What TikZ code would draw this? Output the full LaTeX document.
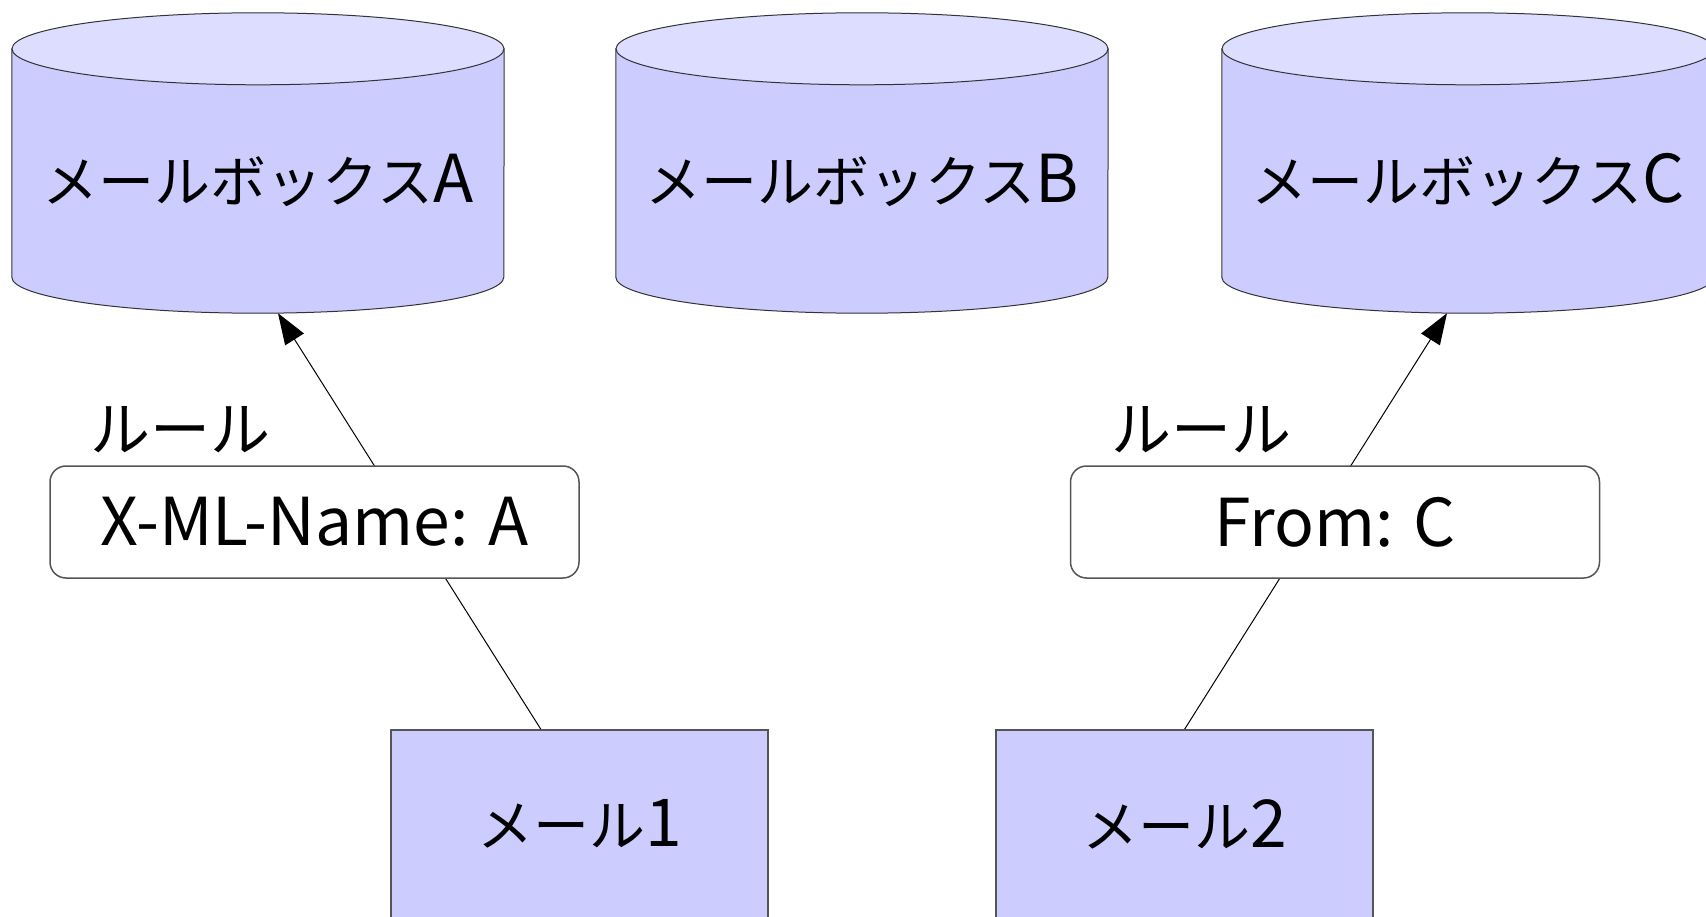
\documentclass[tikz,border=0pt]{standalone}
\usepackage{fontspec}
\setmainfont{Noto Sans CJK JP}
\usetikzlibrary{calc,arrows.meta,backgrounds}
\definecolor{bodyblue}{HTML}{CCCCFF}
\definecolor{topblue}{HTML}{DDDDFF}
\definecolor{edgegray}{HTML}{555555}
\newcommand{\kn}{\fontsize{56}{60}\selectfont}
\newcommand{\lt}{\fontsize{66}{70}\selectfont}
\tikzset{
  cylframe/.style={draw=none,minimum width=492pt,minimum height=300pt,inner sep=0pt},
  cyltext/.style={inner sep=0pt},
  cylbody/.style={fill=bodyblue,draw=black!80,line width=1pt},
  cyltop/.style={fill=topblue,draw=black!80,line width=1pt},
  rulebox/.style={draw=edgegray,line width=1.5pt,fill=white,rounded corners=16pt,minimum width=529pt,minimum height=112pt,inner sep=0pt,font=\lt},
  rulelabel/.style={font=\fontsize{60}{64}\selectfont,inner sep=0pt},
  mailbox/.style={draw=edgegray,line width=1.2pt,fill=bodyblue,minimum width=377pt,minimum height=188pt,inner sep=0pt},
  link/.style={draw=black,line width=1pt},
  arrowlink/.style={link,-{Triangle[length=31pt,width=22pt]}}
}
\newcommand{\cylshape}[1]{%
  \path[cylbody] ($(#1.north west)+(0,-36)$) -- ($(#1.south west)+(0,36)$)
    arc[start angle=180,end angle=360,x radius=246,y radius=36]
    -- ($(#1.north east)+(0,-36)$) -- cycle;
  \path[cyltop] ($(#1.north)+(0,-36)$) ellipse[x radius=246,y radius=36];
}
\begin{document}
\begin{tikzpicture}[x=1pt,y=1pt]
\useasboundingbox (0,0) rectangle (1706,-917);
\clip (0,0) rectangle (1706,-917);
% cylinders
\node[cylframe] (cA) at (258,-163) {};
\node[cylframe] (cB) at (862,-163) {};
\node[cylframe] (cC) at (1468,-163) {};
\cylshape{cA}
\cylshape{cB}
\cylshape{cC}
\node[cyltext] (tA) at (258,-180) {{\kn メールボックス}{\lt A}};
\node[cyltext] (tB) at (862,-180) {{\kn メールボックス}{\lt B}};
\node[cyltext] (tC) at (1468,-180) {{\kn メールボックス}{\lt C}};
% rules
\node[rulebox] (rA) at (314.5,-522) {X-ML-Name: A};
\node[rulebox] (rC) at (1335,-522) {From: C};
\node[rulelabel] (lA) at (180,-430) {ルール};
\node[rulelabel] (lC) at (1201,-430) {ルール};
% mails
\node[mailbox] (m1) at (579.5,-824) {{\kn メール}{\lt 1}};
\node[mailbox] (m2) at (1184.5,-824) {{\kn メール}{\lt 2}};
% connectors
\begin{pgfonlayer}{background}
\draw[arrowlink] ($(m1.north west)!0.398!(m1.north east)$) -- ($(cA.south)+(20,0)$);
\draw[arrowlink] (m2.north) -- ($(cC.south)+(-21,0)$);
\end{pgfonlayer}
\end{tikzpicture}
\end{document}
